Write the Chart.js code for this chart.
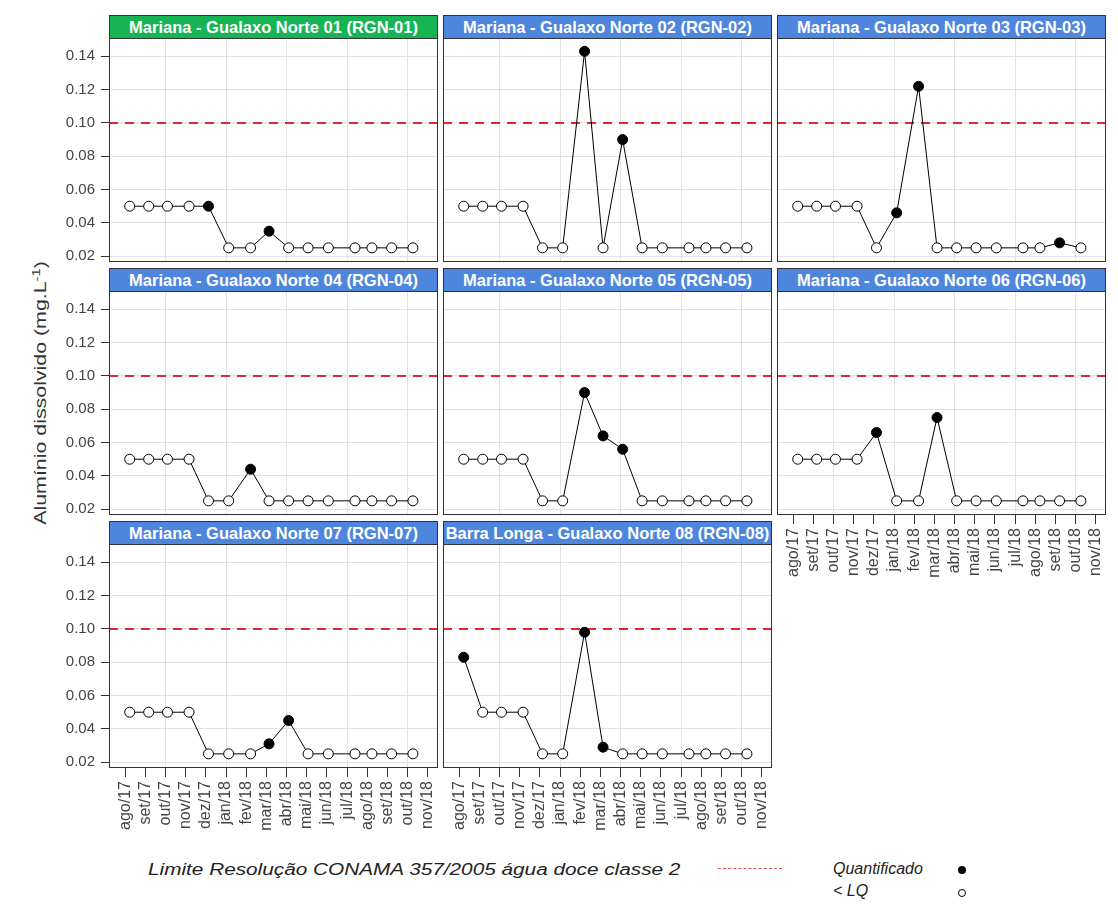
<!DOCTYPE html>
<html>
<head>
<meta charset="utf-8">
<script src="https://cdn.jsdelivr.net/npm/chart.js@4.4.1/dist/chart.umd.min.js"></script>
<style>
  body { margin: 0; background: #fff; font-family: 'Liberation Sans', Arial, sans-serif; }
  #wrap { position: relative; width: 1118px; height: 904px; overflow: hidden; }
  canvas { position: absolute; }
  .strip {
    position: absolute; box-sizing: border-box; height: 24px;
    border: 1px solid #333; color: #fff; font-weight: bold; font-size: 16.5px;
    text-align: center; line-height: 22px; white-space: nowrap; overflow: hidden;
  }
  .ylab {
    position: absolute; left: 40px; top: 393px; font-size: 16px; color: #333; white-space: nowrap;
  }
  .leg { position: absolute; font-style: italic; font-size: 16px; color: #222; white-space: nowrap; transform-origin: 0 50%; }
</style>
</head>
<body>
<div id="wrap">
  <div class="ylab" id="ytitle">Alumínio dissolvido (mg.L<sup style="font-size:11px">-1</sup>)</div>
  <div class="leg" id="limText" style="left:148px; top:861px;">Limite Resolução CONAMA 357/2005 água doce classe 2</div>
  <div style="position:absolute; left:718px; top:868px; width:64px; border-top:1px dashed #e05050;"></div>
  <div class="leg" style="left:833px; top:860px;">Quantificado</div>
  <div class="leg" style="left:833px; top:882px;">&lt; LQ</div>
  <div style="position:absolute; left:958px; top:866px; width:8px; height:8px; border-radius:50%; background:#000;"></div>
  <div style="position:absolute; left:958px; top:889px; width:6px; height:6px; border-radius:50%; border:1px solid #000; background:#fff;"></div>
</div>
<script>
// axis labels
const months = ['ago/17', 'set/17', 'out/17', 'nov/17', 'dez/17', 'jan/18', 'fev/18', 'mar/18',
                'abr/18', 'mai/18', 'jun/18', 'jul/18', 'ago/18', 'set/18', 'out/18', 'nov/18'];
const yTicks = [0.02, 0.04, 0.06, 0.08, 0.10, 0.12, 0.14];
const limitValue = 0.10;

// sampling dates (same campaign for every station)
const sampleDates = ['2017-08-08', '2017-09-06', '2017-10-04', '2017-11-06', '2017-12-05',
                     '2018-01-05', '2018-02-07', '2018-03-05', '2018-04-04', '2018-05-03',
                     '2018-06-03', '2018-07-13', '2018-08-08', '2018-09-07', '2018-10-09'];

const titles = [
    'Mariana - Gualaxo Norte 01 (RGN-01)',
    'Mariana - Gualaxo Norte 02 (RGN-02)',
    'Mariana - Gualaxo Norte 03 (RGN-03)',
    'Mariana - Gualaxo Norte 04 (RGN-04)',
    'Mariana - Gualaxo Norte 05 (RGN-05)',
    'Mariana - Gualaxo Norte 06 (RGN-06)',
    'Mariana - Gualaxo Norte 07 (RGN-07)',
    'Barra Longa - Gualaxo Norte 08 (RGN-08)'
];

// values in mg/L, and 1 = quantificado, 0 = < LQ
const rgn01 = [0.050, 0.050, 0.050, 0.050, 0.050, 0.025, 0.025, 0.035, 0.025, 0.025, 0.025, 0.025, 0.025, 0.025, 0.025];
const rgn01Q = [0, 0, 0, 0, 1, 0, 0, 1, 0, 0, 0, 0, 0, 0, 0];
const rgn02 = [0.050, 0.050, 0.050, 0.050, 0.025, 0.025, 0.143, 0.025, 0.090, 0.025, 0.025, 0.025, 0.025, 0.025, 0.025];
const rgn02Q = [0, 0, 0, 0, 0, 0, 1, 0, 1, 0, 0, 0, 0, 0, 0];
const rgn03 = [0.050, 0.050, 0.050, 0.050, 0.025, 0.046, 0.122, 0.025, 0.025, 0.025, 0.025, 0.025, 0.025, 0.028, 0.025];
const rgn03Q = [0, 0, 0, 0, 0, 1, 1, 0, 0, 0, 0, 0, 0, 1, 0];
const rgn04 = [0.050, 0.050, 0.050, 0.050, 0.025, 0.025, 0.044, 0.025, 0.025, 0.025, 0.025, 0.025, 0.025, 0.025, 0.025];
const rgn04Q = [0, 0, 0, 0, 0, 0, 1, 0, 0, 0, 0, 0, 0, 0, 0];
const rgn05 = [0.050, 0.050, 0.050, 0.050, 0.025, 0.025, 0.090, 0.064, 0.056, 0.025, 0.025, 0.025, 0.025, 0.025, 0.025];
const rgn05Q = [0, 0, 0, 0, 0, 0, 1, 1, 1, 0, 0, 0, 0, 0, 0];
const rgn06 = [0.050, 0.050, 0.050, 0.050, 0.066, 0.025, 0.025, 0.075, 0.025, 0.025, 0.025, 0.025, 0.025, 0.025, 0.025];
const rgn06Q = [0, 0, 0, 0, 1, 0, 0, 1, 0, 0, 0, 0, 0, 0, 0];
const rgn07 = [0.050, 0.050, 0.050, 0.050, 0.025, 0.025, 0.025, 0.031, 0.045, 0.025, 0.025, 0.025, 0.025, 0.025, 0.025];
const rgn07Q = [0, 0, 0, 0, 0, 0, 0, 1, 1, 0, 0, 0, 0, 0, 0];
const rgn08 = [0.083, 0.050, 0.050, 0.050, 0.025, 0.025, 0.098, 0.029, 0.025, 0.025, 0.025, 0.025, 0.025, 0.025, 0.025];
const rgn08Q = [1, 0, 0, 0, 0, 0, 1, 1, 0, 0, 0, 0, 0, 0, 0];

const seriesList = [rgn01, rgn02, rgn03, rgn04, rgn05, rgn06, rgn07, rgn08];
const quantList = [rgn01Q, rgn02Q, rgn03Q, rgn04Q, rgn05Q, rgn06Q, rgn07Q, rgn08Q];

// month index since ago/17, with fraction of the month
function monthPos(s) {
    const [y, m, d] = s.split('-').map(Number);
    const dim = new Date(y, m, 0).getDate();
    return (y - 2017) * 12 + (m - 8) + (d - 1) / dim;
}

Chart.defaults.font.family = "'Liberation Sans', Arial, sans-serif";

// facet geometry
const colLeft = [109, 443, 777];
const rowTop = [38, 291, 544];
const panelW = 329, panelH = 224;
const yAxisW = 56, xAxisH = 75;

// dashed limit line + panel border
const facetPlugin = {
    id: 'facet',
    beforeDatasetsDraw(chart) {
        const { ctx, chartArea: a } = chart;
        const y = Math.round(chart.scales.y.getPixelForValue(limitValue));
        ctx.save();
        ctx.strokeStyle = '#e3262f';
        ctx.lineWidth = 2;
        ctx.setLineDash([9, 7]);
        ctx.beginPath();
        ctx.moveTo(a.left, y);
        ctx.lineTo(a.right, y);
        ctx.stroke();
        ctx.restore();
    },
    afterDraw(chart) {
        const { ctx, chartArea: a } = chart;
        ctx.save();
        ctx.strokeStyle = '#333';
        ctx.lineWidth = 1;
        ctx.strokeRect(a.left + 0.5, a.top + 0.5, a.right - a.left - 1, a.bottom - a.top - 1);
        ctx.restore();
    }
};

// no label overflow padding, so every panel keeps the same plot box
function noPad(s) {
    s.paddingLeft = 0; s.paddingRight = 0; s.paddingTop = 0; s.paddingBottom = 0;
}

const wrap = document.getElementById('wrap');

seriesList.forEach((vals, i) => {
    const col = i % 3, row = Math.floor(i / 3);
    const showY = col === 0;
    const showX = row === 2 || i === 5;

    const strip = document.createElement('div');
    strip.className = 'strip';
    strip.textContent = titles[i];
    strip.style.left = colLeft[col] + 'px';
    strip.style.top = (rowTop[row] - 23) + 'px';
    strip.style.width = panelW + 'px';
    strip.style.background = i === 0 ? '#17b453' : '#4f86dd';
    wrap.appendChild(strip);

    const cv = document.createElement('canvas');
    const cw = panelW + (showY ? yAxisW : 0);
    const ch = panelH + (showX ? xAxisH : 0);
    cv.width = cw; cv.height = ch;
    cv.style.width = cw + 'px'; cv.style.height = ch + 'px';
    cv.style.left = (colLeft[col] - (showY ? yAxisW : 0)) + 'px';
    cv.style.top = rowTop[row] + 'px';
    wrap.appendChild(cv);

    const q = quantList[i];
    new Chart(cv, {
        type: 'line',
        data: {
            datasets: [{
                data: vals.map((v, k) => ({ x: monthPos(sampleDates[k]), y: v })),
                borderColor: '#000',
                borderWidth: 1,
                pointRadius: 5,
                pointBorderWidth: 1,
                pointBorderColor: '#000',
                pointBackgroundColor: q.map(f => f ? '#000' : '#fff'),
                tension: 0
            }]
        },
        options: {
            responsive: false,
            animation: false,
            events: [],
            layout: { padding: 0, autoPadding: false },
            plugins: { legend: { display: false }, tooltip: { enabled: false } },
            scales: {
                x: {
                    type: 'linear',
                    min: -0.8,
                    max: 15.5,
                    afterBuildTicks: s => { s.ticks = months.map((_, k) => ({ value: k })); },
                    afterFit: s => { s.height = showX ? xAxisH : 0; noPad(s); },
                    border: { display: false },
                    grid: {
                        color: c => (c.tick && c.tick.value % 3 === 2) ? '#e2e2e2' : 'rgba(0,0,0,0)',
                        tickColor: '#333',
                        drawTicks: showX,
                        tickLength: 9
                    },
                    ticks: {
                        display: showX,
                        autoSkip: false,
                        minRotation: 90,
                        maxRotation: 90,
                        padding: 4,
                        color: '#444',
                        font: { size: 16 },
                        callback: v => months[v]
                    }
                },
                y: {
                    min: 0.0165,
                    max: 0.151,
                    afterBuildTicks: s => { s.ticks = yTicks.map(v => ({ value: v })); },
                    afterFit: s => { s.width = showY ? yAxisW : 0; noPad(s); },
                    border: { display: false },
                    grid: {
                        color: '#e2e2e2',
                        tickColor: '#333',
                        drawTicks: showY,
                        tickLength: 8
                    },
                    ticks: {
                        display: showY,
                        padding: 6,
                        color: '#444',
                        font: { size: 15 },
                        callback: v => v.toFixed(2)
                    }
                }
            }
        },
        plugins: [facetPlugin]
    });
});

// stretch a few html texts to the lengths seen in the figure
const yt = document.getElementById('ytitle');
yt.style.transform = 'translate(-50%, -50%) rotate(-90deg) scaleX(' + (263 / yt.offsetWidth) + ')';
const lt = document.getElementById('limText');
lt.style.transform = 'scaleX(' + (532 / lt.offsetWidth) + ')';
</script>
</body>
</html>
